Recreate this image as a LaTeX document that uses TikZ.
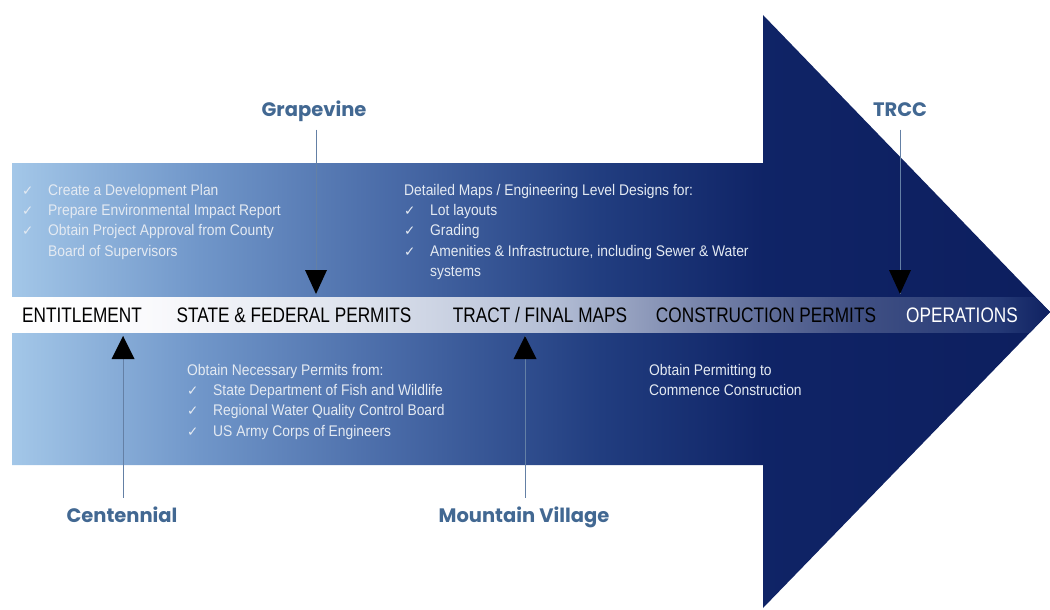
\documentclass[tikz,border=0pt]{standalone}
\usepackage{fontspec}
\setmainfont{Liberation Sans}
\newfontfamily\stagefont{Liberation Sans}[FakeStretch=0.82]
\newfontfamily\notefont{Liberation Sans}[FakeStretch=0.9]
\newfontfamily\sitefont{Poppins}
\newfontfamily\symfont{DejaVu Sans}
\usetikzlibrary{positioning}

\definecolor{siteblue}{RGB}{66,104,146}
\definecolor{leadblue}{RGB}{100,128,165}
\definecolor{notegray}{RGB}{228,234,242}
\pgfdeclarehorizontalshading{arrowshade}{100bp}{rgb(0bp)=(0.64,0.78,0.91); rgb(25bp)=(0.64,0.78,0.91); rgb(34bp)=(0.44,0.59,0.79); rgb(43.7bp)=(0.28,0.41,0.65); rgb(53.3bp)=(0.13,0.24,0.50); rgb(61.2bp)=(0.06,0.14,0.40); rgb(75bp)=(0.05,0.12,0.37); rgb(100bp)=(0.05,0.12,0.37)}
\pgfdeclarehorizontalshading{bandshade}{100bp}{rgb(0bp)=(1,1,1); rgb(25bp)=(1,1,1); rgb(31.6bp)=(0.98,0.98,0.99); rgb(41.3bp)=(0.87,0.89,0.93); rgb(50.9bp)=(0.71,0.75,0.84); rgb(58.1bp)=(0.47,0.52,0.67); rgb(65.4bp)=(0.26,0.32,0.52); rgb(72.6bp)=(0.14,0.22,0.46); rgb(75bp)=(0.06,0.13,0.38); rgb(100bp)=(0.06,0.13,0.38)}
\newcommand\arrowpath{(12,163) -- (763,163) -- (763,15) -- (1050,312) -- (763,608) -- (763,465) -- (12,465) -- cycle}
\newcommand\tick{\makebox[26pt][l]{\symfont\fontsize{13.5}{13.5}\selectfont ✓}}

\begin{document}
\begin{tikzpicture}[x=1pt, y=-1pt,
    stage/.style={font=\stagefont\fontsize{21}{21}\selectfont, inner sep=0pt, anchor=base},
    notes/.style={font=\notefont\fontsize{15.4}{20.3}\selectfont, text=notegray, align=left, anchor=north west, inner sep=0pt},
    site/.style={font=\sitefont\bfseries\fontsize{19.5}{19.5}\selectfont, text=siteblue, anchor=base},
    leadline/.style={draw=leadblue, line width=0.7pt, shorten <=5pt},
    marker/.style={fill=black}
  ]
    \useasboundingbox (0,0) rectangle (1050,610);
    \shade[shading=arrowshade] \arrowpath;
    \begin{scope}
      \clip \arrowpath;
      \shade[shading=bandshade] (12,297) rectangle (1050,332);
    \end{scope}

    \node[stage] (entitle) at (82,322) {ENTITLEMENT};
    \node[stage] (permits) at (294,322) {STATE \& FEDERAL PERMITS};
    \node[stage] (tract) at (540,322) {TRACT / FINAL MAPS};
    \node[stage] (construct) at (766,322) {CONSTRUCTION PERMITS};
    \node[stage, text=white] (operate) at (962,322) {OPERATIONS};

    \node[notes] (entitleNotes) at (22,184) {\tick Create a Development Plan\\ \tick Prepare Environmental Impact Report\\ \tick Obtain Project Approval from County\\ \hspace*{26pt}Board of Supervisors};
    \node[notes] (tractNotes) at (404,184) {Detailed Maps / Engineering Level Designs for:\\ \tick Lot layouts\\ \tick Grading\\ \tick Amenities \& Infrastructure, including Sewer \& Water\\ \hspace*{26pt}systems};
    \node[notes] (permitNotes) at (187,364) {Obtain Necessary Permits from:\\ \tick State Department of Fish and Wildlife\\ \tick Regional Water Quality Control Board\\ \tick US Army Corps of Engineers};
    \node[notes] (buildNotes) at (649,364) {Obtain Permitting to\\ Commence Construction};

    \node[site] (grapevine) at (314,116) {Grapevine};
    \node[site] (trcc) at (900,116) {TRCC};
    \node[site] (centennial) at (122,522) {Centennial};
    \node[site] (mountain) at (524,522) {Mountain Village};
    \coordinate (gvTip) at (316,294);
    \coordinate (trTip) at (900,294);
    \coordinate (ceTip) at (123,336);
    \coordinate (mvTip) at (525,336);

    \draw[leadline] (grapevine.south -| gvTip) -- (gvTip);
    \draw[leadline, shorten <=10pt] (trcc.south -| trTip) -- (trTip);
    \draw[leadline] (centennial.north -| ceTip) -- (ceTip);
    \draw[leadline] (mountain.north -| mvTip) -- (mvTip);
    \foreach \t in {gvTip, trTip}
      \fill[marker] (\t) -- ++(-11,-24) -- ++(22,0) -- cycle;
    \foreach \t in {ceTip, mvTip}
      \fill[marker] (\t) -- ++(-11.5,23) -- ++(23,0) -- cycle;
\end{tikzpicture}
\end{document}
